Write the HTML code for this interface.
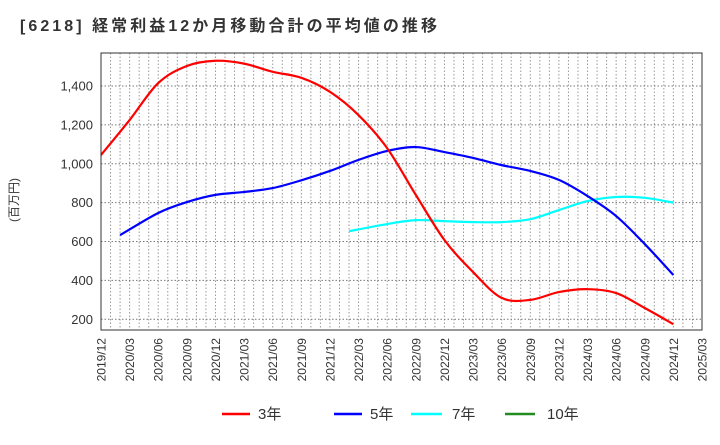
<!DOCTYPE html>
<html><head><meta charset="utf-8"><style>
body{margin:0;background:#fff;}
svg text{font-family:"Liberation Sans","Noto Sans CJK JP",sans-serif;}
</style></head><body>
<svg id="c" width="720" height="440" xmlns="http://www.w3.org/2000/svg">
<text x="20" y="31" font-size="16" font-weight="bold" fill="#333" textLength="417" lengthAdjust="spacing">[6218]  経常利益12か月移動合計の平均値の推移</text>
<text transform="translate(18,200) rotate(-90)" font-size="12" fill="#333" text-anchor="middle">(百万円)</text>
<g id="grid"></g><g id="series"></g><g id="axes"></g>
<g font-size="15" fill="#333">
<line x1="222" y1="414" x2="250" y2="414" stroke="#f00" stroke-width="2.5"/><text x="258" y="419">3年</text>
<line x1="334" y1="414" x2="362" y2="414" stroke="#00f" stroke-width="2.5"/><text x="370" y="419">5年</text>
<line x1="411" y1="414" x2="442" y2="414" stroke="#0ff" stroke-width="2.5"/><text x="452" y="419">7年</text>
<line x1="505" y1="414" x2="535" y2="414" stroke="#228b22" stroke-width="2.5"/><text x="547" y="419">10年</text>
</g>
</svg>
<script>
const xLabels=["2019/12","2020/03","2020/06","2020/09","2020/12","2021/03","2021/06","2021/09","2021/12","2022/03","2022/06","2022/09","2022/12","2023/03","2023/06","2023/09","2023/12","2024/03","2024/06","2024/09","2024/12","2025/03"];
const yTicks=[200,400,600,800,1000,1200,1400];
const red3Months=[0,3,6,9,12,15,18,21,24,27,30,33,36,39,42,45,48,51,54,57,60];
const red3=[1045,1225,1415,1503,1530,1515,1473,1442,1370,1250,1080,840,608,443,310,300,340,355,335,258,175];
const blue5Months=[2,6,9,12,15,18,21,24,27,30,33,36,39,42,45,48,51,54,57,60];
const blue5=[633,747,803,840,855,875,915,963,1020,1066,1086,1060,1030,993,963,917,834,731,587,428];
const cyan7Months=[26,30,33,36,39,42,45,48,51,54,57,60];
const cyan7=[653,690,710,705,700,700,715,762,808,829,825,800];
const L=101,R=702,T=53,B=330;
const xs=m=>L+m*(R-L)/63;
const ys=v=>319.3-(v-200)*(319.3-86)/1200;
const NS="http://www.w3.org/2000/svg";
function mk(t,a,p){const e=document.createElementNS(NS,t);for(const k in a)e.setAttribute(k,a[k]);p.appendChild(e);return e;}
const g=document.getElementById('grid'),ax=document.getElementById('axes'),s=document.getElementById('series');
for(let m=1;m<63;m++){const l=mk('line',{x1:xs(m),x2:xs(m),y1:T,y2:B,stroke:'#999','stroke-dasharray':'1.5,2','stroke-width':1},g);

}
yTicks.forEach(v=>{const l=mk('line',{x1:L,x2:R,y1:ys(v),y2:ys(v),stroke:'#777','stroke-dasharray':'1.5,2','stroke-width':1},g);


const t=mk('text',{x:L-8,y:ys(v)+4.5,'font-size':13,fill:'#333','text-anchor':'end'},ax);t.textContent=v.toLocaleString('en-US');

});
const frame=mk('rect',{x:L,y:T,width:R-L,height:B-T,fill:'none',stroke:'#333','stroke-width':1},ax);


xLabels.forEach((lb,i)=>{const x=xs(i*3);const t=mk('text',{transform:`translate(${x+4.5},${B+8}) rotate(-90)`,'font-size':12,fill:'#333','text-anchor':'end'},ax);t.textContent=lb;

});
function path(ms,vs){const p=ms.map((m,i)=>[xs(m),ys(vs[i])]);let d=`M${p[0][0]},${p[0][1]}`;
for(let i=0;i<p.length-1;i++){const p0=p[i-1]||p[i],p1=p[i],p2=p[i+1],p3=p[i+2]||p2;
d+=` C${p1[0]+(p2[0]-p0[0])/6},${p1[1]+(p2[1]-p0[1])/6} ${p2[0]-(p3[0]-p1[0])/6},${p2[1]-(p3[1]-p1[1])/6} ${p2[0]},${p2[1]}`;}return d;}
[[cyan7Months,cyan7,'#0ff','line-7y'],[blue5Months,blue5,'#00f','line-5y'],[red3Months,red3,'#f00','line-3y']].forEach(([m,v,c,n])=>{
const e=mk('path',{d:path(m,v),fill:'none',stroke:c,'stroke-width':2.2},s);

});
</script>
</body></html>
